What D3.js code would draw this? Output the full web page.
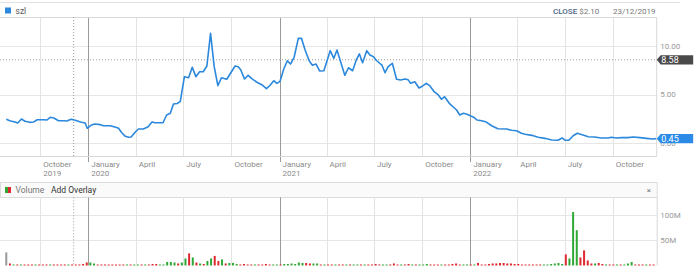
<!DOCTYPE html>
<html>
<head>
<meta charset="utf-8">
<script src="https://cdn.jsdelivr.net/npm/d3@7"></script>
<style>
  body { margin: 0; background: #fff; }
  #chart { width: 700px; height: 272px; }
  text { font-family: Roboto, sans-serif; }
</style>
</head>
<body>
<div id="chart"></div>
<script>
// price closes
const priceDates = [
  "2019-07-28","2019-08-05","2019-08-12","2019-08-19","2019-08-26","2019-09-02","2019-09-11","2019-09-18","2019-09-25","2019-10-07",
  "2019-10-14","2019-10-20","2019-10-27","2019-11-05","2019-11-15","2019-11-21","2019-11-29","2019-12-07","2019-12-17","2019-12-26",
  "2019-12-30","2020-01-06","2020-01-13","2020-01-24","2020-01-30","2020-02-12","2020-02-21","2020-02-28","2020-03-05","2020-03-12",
  "2020-03-18","2020-03-23","2020-03-31","2020-04-06","2020-04-15","2020-04-24","2020-05-02","2020-05-08","2020-05-23","2020-05-30",
  "2020-06-06","2020-06-12","2020-06-19","2020-06-25","2020-07-03","2020-07-11","2020-07-18","2020-07-25","2020-08-01","2020-08-08",
  "2020-08-15","2020-08-22","2020-08-29","2020-09-05","2020-09-12","2020-09-22","2020-10-01","2020-10-08","2020-10-14","2020-10-19",
  "2020-10-26","2020-11-02","2020-11-09","2020-11-18","2020-11-28","2020-12-07","2020-12-14","2020-12-21","2020-12-27","2021-01-02",
  "2021-01-09","2021-01-16","2021-01-22","2021-01-29","2021-02-06","2021-02-12","2021-02-19","2021-02-27","2021-03-05","2021-03-12",
  "2021-03-19","2021-03-27","2021-04-08","2021-04-15","2021-04-21","2021-05-06","2021-05-13","2021-05-21","2021-05-28","2021-06-03",
  "2021-06-09","2021-06-17","2021-06-23","2021-06-30","2021-07-06","2021-07-16","2021-07-22","2021-07-28","2021-08-05","2021-08-13",
  "2021-08-21","2021-08-29","2021-09-04","2021-09-09","2021-09-17","2021-09-25","2021-10-02","2021-10-09","2021-10-16","2021-10-24",
  "2021-11-01","2021-11-07","2021-11-13","2021-11-22","2021-11-29","2021-12-06","2021-12-12","2021-12-19","2021-12-26","2022-01-02",
  "2022-01-08","2022-01-14","2022-01-23","2022-02-01","2022-02-11","2022-02-23","2022-03-12","2022-03-21","2022-03-31","2022-04-09",
  "2022-04-16","2022-04-29","2022-05-11","2022-05-24","2022-06-06","2022-06-18","2022-06-26","2022-07-02","2022-07-09","2022-07-17",
  "2022-07-25","2022-08-05","2022-08-15","2022-08-27","2022-09-09","2022-09-22","2022-09-28","2022-10-08","2022-10-18","2022-10-30",
  "2022-11-09","2022-11-22","2022-12-04","2022-12-17","2022-12-23"
];
const priceValues = [
  2.44,2.27,2.20,2.06,2.47,2.24,2.13,2.16,2.40,2.40,
  2.37,2.65,2.58,2.30,2.30,2.27,2.44,2.34,2.16,2.06,
  1.52,1.82,1.96,1.89,1.78,1.78,1.65,1.52,1.06,0.69,
  0.59,0.62,1.13,1.44,1.44,1.65,2.16,2.09,2.09,2.89,
  3.06,4.02,4.07,4.26,6.84,6.73,7.80,6.84,7.35,7.35,
  7.94,11.31,7.87,5.91,6.73,6.57,7.35,7.94,7.87,7.53,
  6.60,6.98,6.63,6.29,6.01,5.60,5.95,6.42,6.15,6.36,
  7.60,8.48,8.14,8.84,10.79,10.79,9.59,8.45,8.01,8.14,
  7.42,7.45,9.52,8.73,9.59,6.98,7.76,7.45,8.56,9.18,
  8.28,9.52,9.07,8.90,8.48,8.04,7.25,7.87,8.22,6.57,
  6.49,6.60,6.53,6.15,6.32,5.67,5.88,6.15,5.88,5.29,
  4.95,4.51,4.77,4.09,3.74,3.40,2.89,3.06,2.96,2.78,
  2.65,2.37,2.30,2.16,1.78,1.47,1.44,1.31,1.27,1.00,
  0.90,0.79,0.59,0.48,0.31,0.28,0.52,0.28,0.28,0.75,
  1.00,0.82,0.65,0.62,0.52,0.52,0.59,0.52,0.55,0.55,
  0.62,0.55,0.48,0.41,0.45
];

// weekly volume in millions, first week starts 2019-07-28
const volumeStart = "2019-07-28";
const volumeValues = [
  26,4,2,2,2,2,2,2,2,2,
  2,2,2,2,2,2,2,2,2,2,
  2,3,6,6,4,2,2,2,2,2,
  2,2,2,2,2,2,2,2,2,2,
  3,3,2,2,7,7,6,4,6,14,
  24,16,6,4,3,9,14,19,9,12,
  4,5,5,3,2,3,2,2,2,2,
  2,3,2,2,2,2,3,3,4,3,
  6,5,5,4,4,4,2,2,2,2,
  2,2,2,2,2,2,2,2,2,2,
  2,3,2,2,2,2,4,2,2,2,
  3,2,2,2,2,3,2,2,2,2,
  2,2,3,4,2,2,2,2,2,5,
  2,2,3,4,4,5,5,4,4,3,
  3,2,2,2,2,2,2,2,2,3,
  4,5,3,22,14,106,70,16,30,10,
  4,4,5,3,2,2,2,2,2,2,
  4,7,2,2,2,2,2,2
];
// n = none, g = up week, r = down week
const volumeDirs = (
  "n r g r g r r r g r " +
  "r r g r r r r g r r " +
  "r r r g g r r r r r " +
  "r r r g r g g r g r " +
  "r r g g g g g r g g " +
  "r g r g r g g r r g " +
  "r g g g r r r r g r " +
  "r r r g g r g g g g " +
  "g g r r g g r g r r " +
  "g r r g r g g r g r " +
  "r r r g g r r r g r " +
  "r g r g g g r r r g " +
  "r r r r r g g r g r " +
  "r r r r r r r r r r " +
  "r r r r r r r g g g " +
  "g g g r g g g r r r " +
  "r g r r g r r g r g " +
  "g g r r r g r r").split(" ");

// axis ticks
const tickDates = ["2019-10-01","2020-01-01","2020-04-01","2020-07-01","2020-10-01","2021-01-01","2021-04-01",
                   "2021-07-01","2021-10-01","2022-01-01","2022-04-01","2022-07-01","2022-10-01"];
const tickLabels = ["October","January","April","July","October","January","April","July","October","January","April","July","October"];
const tickYears = ["2019","2020","","","","2021","","","","2022","","",""];
const priceTicks = [0, 5, 10];
const volumeTicks = [50, 100];

// header / markers
const seriesName = "szl";
const closeText = "$2.10";
const closeDate = "23/12/2019";
const crosshairDate = "2019-12-04";
const crosshairValue = 8.58;
const lastValue = 0.45;

function drawChart(containerId) {
    const parse = d3.timeParse("%Y-%m-%d");
    const W = 700, H = 272;
    const plotRight = 656.7;

    // price panel and volume panel vertical bounds
    const top = { y0: 17, y1: 156 };
    const vol = { y0: 197.3, y1: 265.5 };

    const svg = d3.create("svg")
        .attr("width", W)
        .attr("height", H)
        .style("font-size", "8px");

    // x scale shared by both panels
    const x = d3.scaleTime()
        .domain([new Date(2019, 6, 16), new Date(2022, 11, 24)])
        .range([0, plotRight]);

    const y = d3.scaleLinear()
        .domain([-1.34, 12.99])
        .range([top.y1, top.y0]);

    const yVol = d3.scaleLinear()
        .domain([0, 135.3])
        .range([vol.y1, vol.y0]);

    const ticks = tickDates.map(parse);
    const isYear = d => d.getMonth() === 0;

    // outer frame line
    svg.append("line").attr("x1", 0).attr("x2", 680).attr("y1", 2.5).attr("y2", 2.5)
        .attr("stroke", "#e2e2e2");

    // ---------- price panel ----------
    const g = svg.append("g");

    // horizontal grid
    g.selectAll(".hgrid").data(priceTicks).join("line")
        .attr("x1", 0).attr("x2", plotRight)
        .attr("y1", d => Math.round(y(d)) + 0.5).attr("y2", d => Math.round(y(d)) + 0.5)
        .attr("stroke", "#e6e6e6");

    // vertical grid (years darker, with tick below)
    g.selectAll(".vgrid").data(ticks).join("line")
        .attr("x1", d => Math.round(x(d)) + 0.5).attr("x2", d => Math.round(x(d)) + 0.5)
        .attr("y1", top.y0)
        .attr("y2", d => isYear(d) ? top.y1 + 6 : top.y1)
        .attr("stroke", d => isYear(d) ? "#9a9a9a" : "#e3e3e3");

    // panel border
    g.append("path")
        .attr("d", `M0,${top.y0 + 0.5}H${plotRight}V${top.y1 + 0.5}H0`)
        .attr("fill", "none")
        .attr("stroke", "#d8d8d8");

    // crosshair
    g.append("line")
        .attr("x1", x(parse(crosshairDate))).attr("x2", x(parse(crosshairDate)))
        .attr("y1", top.y0).attr("y2", top.y1)
        .attr("stroke", "#9a9a9a").attr("stroke-dasharray", "1,2");
    g.append("line")
        .attr("x1", 0).attr("x2", plotRight)
        .attr("y1", y(crosshairValue)).attr("y2", y(crosshairValue))
        .attr("stroke", "#9a9a9a").attr("stroke-dasharray", "1,2");

    // price line
    const priceData = priceDates.map((d, i) => ({ date: parse(d), value: priceValues[i] }));
    const line = d3.line()
        .x(d => x(d.date))
        .y(d => y(d.value));
    g.append("path")
        .datum(priceData)
        .attr("fill", "none")
        .attr("stroke", "#2b88dc")
        .attr("stroke-width", 1.6)
        .attr("stroke-linejoin", "round")
        .attr("d", line);

    // y labels on the right
    g.selectAll(".ylab").data(priceTicks).join("text")
        .attr("x", plotRight + 3.5)
        .attr("y", d => y(d))
        .attr("dy", "0.35em")
        .attr("fill", "#999")
        .text(d3.format(".2f"));

    // value flags on the axis
    function flag(value, color) {
        const yy = y(value);
        g.append("path")
            .attr("d", `M${plotRight},${yy}L${plotRight + 4},${yy - 4.6}H${plotRight + 36.5}V${yy + 4.6}H${plotRight + 4}Z`)
            .attr("fill", color);
        g.append("text")
            .attr("x", plotRight + 4.5)
            .attr("y", yy)
            .attr("dy", "0.36em")
            .attr("fill", "#fff")
            .style("font-size", "9px")
            .text(d3.format(".2f")(value));
    }
    flag(crosshairValue, "#4a4a4a");
    flag(lastValue, "#2b8be6");

    // x labels
    const xl = g.selectAll(".xlab").data(ticks).join("text")
        .attr("x", d => x(d) + 3)
        .attr("y", 166.6)
        .attr("fill", "#8a8a8a");
    xl.append("tspan").text((d, i) => tickLabels[i]);
    xl.append("tspan")
        .attr("x", d => x(d) + 3)
        .attr("dy", 9.4)
        .text((d, i) => tickYears[i]);

    // header legend
    g.append("rect").attr("x", 5).attr("y", 7.5).attr("width", 6).attr("height", 6).attr("fill", "#2b88dc");
    g.append("text").attr("x", 15.5).attr("y", 13.5).attr("fill", "#555").style("font-size", "8.5px").text(seriesName);
    const close = g.append("text").attr("x", 553).attr("y", 13.5);
    close.append("tspan").attr("fill", "#4b6584").attr("font-weight", 500).text("CLOSE ");
    close.append("tspan").attr("fill", "#777").text(closeText);
    g.append("text").attr("x", 655.5).attr("y", 13.5).attr("text-anchor", "end")
        .attr("fill", "#777").text(closeDate);

    // ---------- volume panel ----------
    const v = svg.append("g");

    // header strip
    v.append("rect")
        .attr("x", 0.5).attr("y", 182.5)
        .attr("width", plotRight).attr("height", 15)
        .attr("fill", "#fafafa").attr("stroke", "#dcdcdc");
    v.append("rect").attr("x", 5).attr("y", 187).attr("width", 3).attr("height", 6).attr("fill", "#2fa836");
    v.append("rect").attr("x", 8).attr("y", 187).attr("width", 3).attr("height", 6).attr("fill", "#e0282e");
    v.append("text").attr("x", 15.5).attr("y", 193).attr("fill", "#777").style("font-size", "8.5px").text("Volume");
    v.append("text").attr("x", 51).attr("y", 193).attr("fill", "#333").style("font-size", "8.5px").text("Add Overlay");
    v.append("text").attr("x", 649).attr("y", 193).attr("text-anchor", "middle").attr("fill", "#777").text("×");

    v.selectAll(".hgrid").data(volumeTicks).join("line")
        .attr("x1", 0).attr("x2", plotRight)
        .attr("y1", d => Math.round(yVol(d)) + 0.5).attr("y2", d => Math.round(yVol(d)) + 0.5)
        .attr("stroke", "#e6e6e6");

    v.selectAll(".vgrid").data(ticks).join("line")
        .attr("x1", d => Math.round(x(d)) + 0.5).attr("x2", d => Math.round(x(d)) + 0.5)
        .attr("y1", vol.y0).attr("y2", vol.y1)
        .attr("stroke", d => isYear(d) ? "#9a9a9a" : "#e3e3e3");

    v.append("line")
        .attr("x1", plotRight + 0.5).attr("x2", plotRight + 0.5)
        .attr("y1", vol.y0).attr("y2", vol.y1)
        .attr("stroke", "#d8d8d8");

    v.append("line")
        .attr("x1", x(parse(crosshairDate))).attr("x2", x(parse(crosshairDate)))
        .attr("y1", vol.y0).attr("y2", vol.y1)
        .attr("stroke", "#9a9a9a").attr("stroke-dasharray", "1,2");

    // bars
    const start = parse(volumeStart);
    const volData = volumeValues.map((d, i) => ({
        date: d3.timeWeek.offset(start, i),
        value: d,
        dir: volumeDirs[i]
    }));
    const barColor = { g: "#2fa836", r: "#e0282e", n: "#999" };
    v.selectAll(".bar").data(volData).join("rect")
        .attr("x", d => x(d.date) - 1)
        .attr("width", 2)
        .attr("y", d => yVol(d.value))
        .attr("height", d => yVol(0) - yVol(d.value))
        .attr("fill", d => barColor[d.dir]);

    v.selectAll(".ylab").data(volumeTicks).join("text")
        .attr("x", plotRight + 3.5)
        .attr("y", d => yVol(d))
        .attr("dy", "0.35em")
        .attr("fill", "#999")
        .text(d => d + "M");

    document.getElementById(containerId).appendChild(svg.node());
}

drawChart("chart");
</script>
</body>
</html>
